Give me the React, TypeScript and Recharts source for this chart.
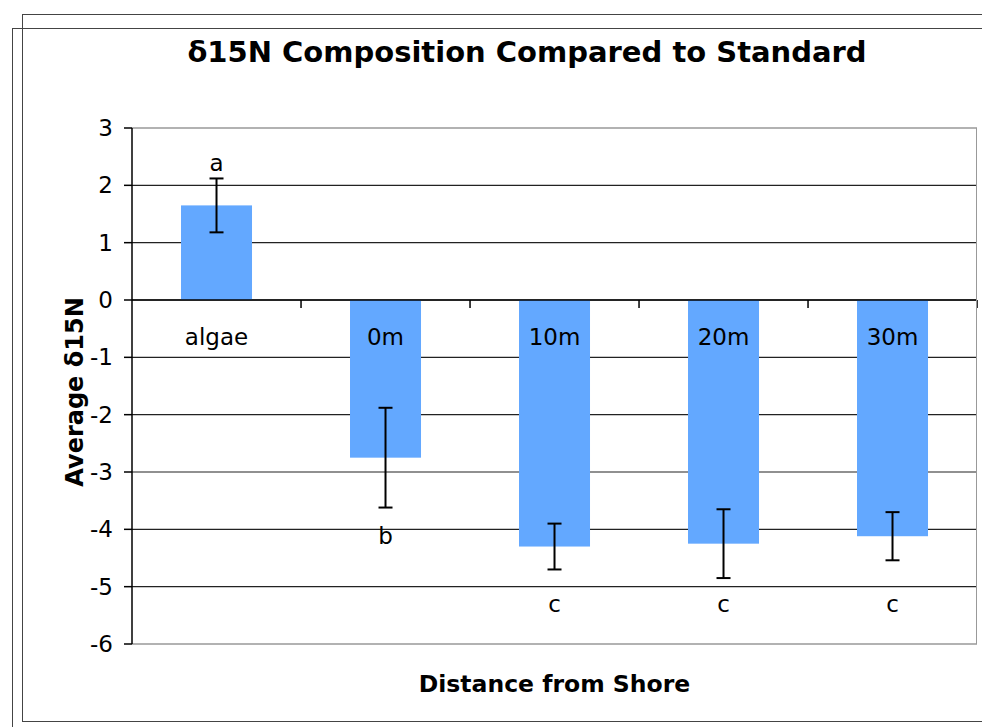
import React from "react";
import {
  ComposedChart,
  Bar,
  Line,
  XAxis,
  YAxis,
  CartesianGrid,
  ErrorBar,
  LabelList,
  ReferenceLine,
} from "recharts";

const categories = ["algae", "0m", "10m", "20m", "30m"];
const means = [1.65, -2.75, -4.3, -4.25, -4.12];
const errors = [0.47, 0.87, 0.4, 0.6, 0.42];
const letters = ["a", "b", "c", "c", "c"];
const letterPos = [2.4, -4.12, -5.3, -5.3, -5.3];
const yTicks = [-6, -5, -4, -3, -2, -1, 0, 1, 2, 3];
const gridValues = [-5, -4, -3, -2, -1, 0, 1, 2];

const data = categories.map((name, i) => ({
  name,
  value: means[i],
  err: errors[i],
  letter: letters[i],
  letterY: letterPos[i],
}));

const FONT = "'DejaVu Sans', Verdana, sans-serif";
const BLUE = "#63A8FF";
const GAP = 0.29;

// bar + the category label and divider tick that sit on the zero line
function BarWithLabel(props: any) {
  const { x, y, width, height, payload } = props;
  const zero = y + height;
  const top = Math.min(y, zero);
  const h = Math.abs(height);
  const band = width / (1 - 2 * GAP);
  const cx = x + width / 2;
  const right = cx + band / 2;
  return (
    <g>
      <rect x={x} y={top} width={width} height={h} fill={BLUE} />
      <text
        x={cx}
        y={zero + 45}
        textAnchor="middle"
        fontSize={23}
        fontFamily={FONT}
        fill="#000"
      >
        {payload.name}
      </text>
      <line x1={right} y1={zero} x2={right} y2={zero + 8} stroke="#000" strokeWidth={1.5} />
    </g>
  );
}

function YTitle(props: any) {
  const { viewBox } = props;
  if (!viewBox) return null;
  const cx = viewBox.x + 57;
  const cy = viewBox.y + viewBox.height / 2 + 6;
  return (
    <text
      x={cx}
      y={cy}
      transform={`rotate(-90 ${cx} ${cy})`}
      textAnchor="middle"
      dominantBaseline="central"
      fontSize={24}
      fontWeight="bold"
      fontFamily={FONT}
      fill="#000"
    >
      Average δ15N
    </text>
  );
}

export default function App() {
  return (
    <div
      style={{
        position: "absolute",
        left: 0,
        top: 0,
        width: 982,
        height: 727,
        background: "#fff",
        overflow: "hidden",
        fontFamily: FONT,
      }}
    >
      <div
        style={{
          position: "absolute",
          left: 22,
          top: 14,
          width: 1000,
          height: 706,
          borderLeft: "1px solid #444",
          borderTop: "1px solid #444",
          borderBottom: "1px solid #444",
        }}
      />
      <div
        style={{
          position: "absolute",
          left: 12,
          top: 28,
          width: 1000,
          height: 800,
          borderLeft: "1px solid #444",
          borderTop: "1px solid #444",
        }}
      />
      <div
        style={{
          position: "absolute",
          left: 527,
          top: 38,
          transform: "translateX(-50%)",
          whiteSpace: "nowrap",
          fontSize: 29,
          fontWeight: "bold",
          lineHeight: "29px",
          color: "#000",
        }}
      >
        δ15N Composition Compared to Standard
      </div>
      <div style={{ position: "absolute", left: 0, top: 0 }}>
        <ComposedChart
          width={982}
          height={727}
          data={data}
          margin={{ top: 128, right: 5, bottom: 3, left: 18 }}
          barCategoryGap={`${GAP * 100}%`}
        >
          <CartesianGrid
            horizontal
            vertical={false}
            horizontalValues={gridValues}
            stroke="#222"
            strokeWidth={1.2}
          />
          <XAxis
            dataKey="name"
            tick={false}
            tickLine={false}
            axisLine={false}
            height={80}
            label={{
              value: "Distance from Shore",
              position: "center",
              fontSize: 23.5,
              fontWeight: "bold",
              fontFamily: FONT,
              fill: "#000",
            }}
          />
          <YAxis
            domain={[-6, 3]}
            ticks={yTicks}
            interval={0}
            width={114}
            tickSize={8}
            tickMargin={11}
            stroke="#000"
            axisLine={{ stroke: "#000", strokeWidth: 1.5 }}
            tickLine={{ stroke: "#000", strokeWidth: 1.5 }}
            tick={{ fill: "#000", fontSize: 23, fontFamily: FONT }}
            label={<YTitle />}
          />
          <ReferenceLine y={3} stroke="#999" strokeWidth={1.5} />
          <ReferenceLine y={-6} stroke="#999" strokeWidth={1.5} />
          <Bar dataKey="value" isAnimationActive={false} shape={<BarWithLabel />}>
            <ErrorBar dataKey="err" width={7} stroke="#000" strokeWidth={2} isAnimationActive={false} />
          </Bar>
          <ReferenceLine y={0} stroke="#000" strokeWidth={1.5} />
          <Line
            dataKey="letterY"
            stroke="none"
            dot={false}
            activeDot={false}
            isAnimationActive={false}
          >
            <LabelList
              dataKey="letter"
              position="center"
              fontSize={23}
              fontFamily={FONT}
              fill="#000"
            />
          </Line>
        </ComposedChart>
      </div>
      <div
        style={{
          position: "absolute",
          left: 976,
          top: 128,
          width: 0,
          height: 516,
          borderLeft: "1.5px solid #999",
          pointerEvents: "none",
        }}
      />
    </div>
  );
}
